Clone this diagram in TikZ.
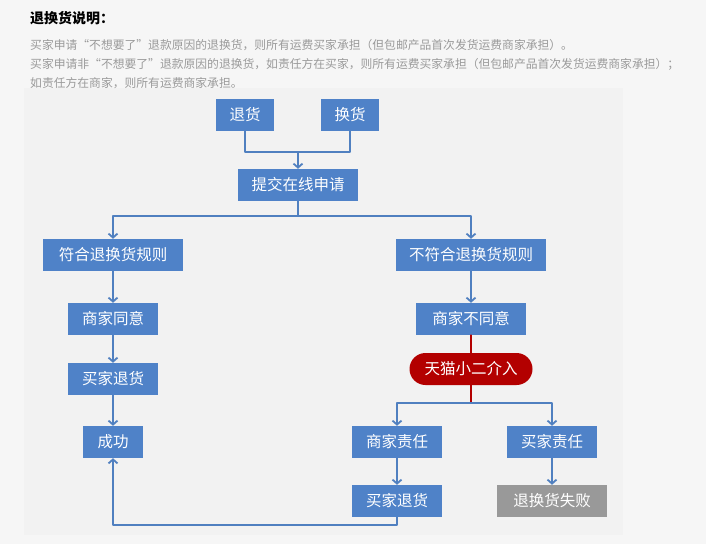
\documentclass[tikz,border=0pt]{standalone}
\usepackage{fontspec}
\setmainfont{Noto Sans CJK SC}
\usetikzlibrary{arrows.meta,shapes.misc}
\definecolor{boxblue}{HTML}{4F82C8}
\definecolor{lineblue}{HTML}{5080C0}
\definecolor{tmallred}{HTML}{B30000}
\definecolor{failgrey}{HTML}{999999}
\definecolor{notegrey}{HTML}{9A9A9A}
\begin{document}
\begin{tikzpicture}[x=1pt, y=-1pt, line cap=round, line join=round,
  every node/.style={inner sep=0pt},
  stepbox/.style={fill=boxblue, text=white, minimum height=32pt, font=\fontsize{15.5}{18}\selectfont},
  failbox/.style={stepbox, fill=failgrey},
  tmallbox/.style={rounded rectangle, fill=tmallred, text=white, minimum height=32pt, minimum width=123pt, font=\fontsize{15.5}{18}\selectfont},
  link/.style={draw=lineblue, line width=1.8pt, line cap=butt},
  arr/.style={link, -{Straight Barb[length=4pt, width=9pt, line width=1.8pt]}},
  note/.style={anchor=west, text=notegrey, font=\fontsize{11.8}{14}\selectfont}]
  % page and light panel behind the chart
  \fill[black!3.5] (0,0) rectangle (706,544);
  \fill[black!5] (24,88) rectangle (623,535);
  \useasboundingbox (0,0) rectangle (706,544);
  % heading and notes
  \node[anchor=west, font=\fontsize{14}{16}\selectfont\bfseries] (title) at (30,18) {退换货说明：};
  \node[note] (note1) at (30,45) {买家申请“不想要了”退款原因的退换货，则所有运费买家承担（但包邮产品首次发货运费商家承担）。};
  \node[note] (note2) at (30,64) {买家申请非“不想要了”退款原因的退换货，如责任方在买家，则所有运费买家承担（但包邮产品首次发货运费商家承担）；};
  \node[note] (note3) at (30,83) {如责任方在商家，则所有运费商家承担。};
  % top part
  \node[stepbox, minimum width=58pt] (tuihuo) at (245,115) {退货};
  \node[stepbox, minimum width=58pt] (huanhuo) at (350,115) {换货};
  \node[stepbox, minimum width=120pt] (tijiao) at (298,185) {提交在线申请};
  \coordinate (join) at (298,152);
  \coordinate (split) at (298,216);
  % left branch
  \node[stepbox, minimum width=140pt] (fuhe) at (113,255) {符合退换货规则};
  \node[stepbox, minimum width=90pt] (tongyi) at (113,319) {商家同意};
  \node[stepbox, minimum width=90pt] (tuihuoL) at (113,379) {买家退货};
  \node[stepbox, minimum width=60pt] (chenggong) at (113,442) {成功};
  % right branch
  \node[stepbox, minimum width=150pt] (bufuhe) at (471,255) {不符合退换货规则};
  \node[stepbox, minimum width=110pt] (butongyi) at (471,319) {商家不同意};
  \node[tmallbox] (xiaoer) at (471,369) {天猫小二介入};
  \coordinate (fork) at (471,403);
  \node[stepbox, minimum width=90pt] (shangjia) at (397,442) {商家责任};
  \node[stepbox, minimum width=90pt] (maijia) at (552,442) {买家责任};
  \node[stepbox, minimum width=90pt] (tuihuoR) at (397,501) {买家退货};
  \node[failbox, minimum width=110pt] (shibai) at (552,501) {退换货失败};
  % connectors
  \draw[link] (tuihuo.south) |- (join) -| (huanhuo.south);
  \draw[arr] (join) -- (tijiao.north);
  \draw[link] (tijiao.south) -- (split);
  \draw[arr] (split) -| (fuhe.north);
  \draw[arr] (split) -| (bufuhe.north);
  \draw[arr] (fuhe) -- (tongyi);
  \draw[arr] (tongyi) -- (tuihuoL);
  \draw[arr] (tuihuoL) -- (chenggong);
  \draw[arr] (bufuhe) -- (butongyi);
  \draw[draw=tmallred, line width=1.8pt] (butongyi.south) -- (xiaoer.north);
  \draw[draw=tmallred, line width=1.8pt] (xiaoer.south) -- (fork);
  \draw[arr] (fork) -| (shangjia.north);
  \draw[arr] (fork) -| (maijia.north);
  \draw[arr] (shangjia) -- (tuihuoR);
  \draw[arr] (maijia) -- (shibai);
  \draw[arr] (tuihuoR.south) -- ++(0,8) -| (chenggong.south);
\end{tikzpicture}
\end{document}
